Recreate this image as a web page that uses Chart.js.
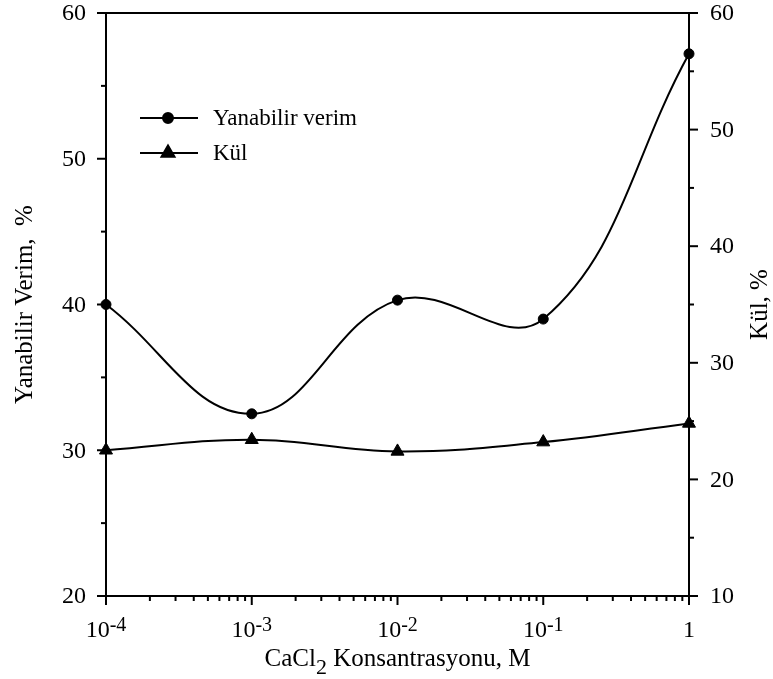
<!DOCTYPE html>
<html>
<head>
<meta charset="utf-8">
<script src="https://cdn.jsdelivr.net/npm/chart.js@4.4.1/dist/chart.umd.min.js"></script>
<style>
  html, body { margin: 0; padding: 0; background: #fff; }
  #wrap { width: 773px; height: 679px; }
</style>
</head>
<body>
<div id="wrap"><canvas id="chart" width="773" height="679"></canvas></div>
<script>
const concentrations = [1e-4, 1e-3, 1e-2, 1e-1, 1];
const yanabilirVerim = [40.0, 32.5, 40.3, 39.0, 57.2];
const kul = [22.5, 23.4, 22.4, 23.2, 24.8];

const leftTicks = [20, 30, 40, 50, 60];
const leftMinor = [25, 35, 45, 55];
const rightTicks = [10, 20, 30, 40, 50, 60];
const rightMinor = [15, 25, 35, 45, 55];
const xExponents = [-4, -3, -2, -1, 0];

const SERIF = '"Liberation Serif", "Times New Roman", serif';

// frame + hand-drawn ticks (major and minor), like the original plot
const axesPlugin = {
  id: 'axesPlugin',
  beforeDatasetsDraw(chart) {
    const { ctx, chartArea: a, scales } = chart;
    ctx.save();
    ctx.strokeStyle = '#000';
    ctx.lineWidth = 2;
    ctx.strokeRect(a.left, a.top, a.right - a.left, a.bottom - a.top);

    const tick = (x1, y1, x2, y2) => {
      ctx.beginPath();
      ctx.moveTo(x1, y1);
      ctx.lineTo(x2, y2);
      ctx.stroke();
    };

    leftTicks.forEach(v => { const y = scales.y.getPixelForValue(v); tick(a.left - 9, y, a.left, y); });
    leftMinor.forEach(v => { const y = scales.y.getPixelForValue(v); tick(a.left - 5, y, a.left, y); });
    rightTicks.forEach(v => { const y = scales.y1.getPixelForValue(v); tick(a.right, y, a.right + 9, y); });
    rightMinor.forEach(v => { const y = scales.y1.getPixelForValue(v); tick(a.right, y, a.right + 5, y); });

    xExponents.forEach(e => {
      const x = scales.x.getPixelForValue(Math.pow(10, e));
      tick(x, a.bottom, x, a.bottom + 9);
      if (e < 0) {
        for (let m = 2; m <= 9; m++) {
          const xm = scales.x.getPixelForValue(m * Math.pow(10, e));
          tick(xm, a.bottom, xm, a.bottom + 5);
        }
      }
    });
    ctx.restore();
  },
  afterDraw(chart) {
    const { ctx, chartArea: a, scales } = chart;
    ctx.save();
    ctx.fillStyle = '#000';
    ctx.strokeStyle = '#000';

    // y tick labels
    ctx.font = '24px ' + SERIF;
    ctx.textBaseline = 'middle';
    ctx.textAlign = 'right';
    leftTicks.forEach(v => ctx.fillText(String(v), a.left - 20, scales.y.getPixelForValue(v) + 1));
    ctx.textAlign = 'left';
    rightTicks.forEach(v => ctx.fillText(String(v), a.right + 21, scales.y1.getPixelForValue(v) + 1));

    // x tick labels with superscript exponents
    ctx.textBaseline = 'alphabetic';
    ctx.textAlign = 'left';
    const base = 637;
    xExponents.forEach(e => {
      const x = scales.x.getPixelForValue(Math.pow(10, e));
      if (e === 0) {
        ctx.font = '24px ' + SERIF;
        const w = ctx.measureText('1').width;
        ctx.fillText('1', x - w / 2, base);
        return;
      }
      ctx.font = '24px ' + SERIF;
      const w1 = ctx.measureText('10').width;
      ctx.font = '20px ' + SERIF;
      const sup = String(e);
      const w2 = ctx.measureText(sup).width;
      const x0 = x - (w1 + w2) / 2;
      ctx.font = '24px ' + SERIF;
      ctx.fillText('10', x0, base);
      ctx.font = '20px ' + SERIF;
      ctx.fillText(sup, x0 + w1, base - 6);
    });

    // x title with subscript
    const tBase = 666;
    ctx.font = '25px ' + SERIF;
    const p1 = 'CaCl', p3 = ' Konsantrasyonu, M';
    const w1 = ctx.measureText(p1).width;
    const w3 = ctx.measureText(p3).width;
    ctx.font = '22px ' + SERIF;
    const w2 = ctx.measureText('2').width;
    let xs = (a.left + a.right) / 2 - (w1 + w2 + w3) / 2;
    ctx.font = '25px ' + SERIF;
    ctx.fillText(p1, xs, tBase);
    ctx.font = '22px ' + SERIF;
    ctx.fillText('2', xs + w1, tBase + 8);
    ctx.font = '25px ' + SERIF;
    ctx.fillText(p3, xs + w1 + w2, tBase);

    // y titles
    ctx.textAlign = 'center';
    ctx.textBaseline = 'middle';
    const midY = (a.top + a.bottom) / 2;
    ctx.save();
    ctx.translate(25, midY);
    ctx.rotate(-Math.PI / 2);
    ctx.fillText('Yanabilir Verim,  %', 0, 0);
    ctx.restore();
    ctx.save();
    ctx.translate(760, midY);
    ctx.rotate(-Math.PI / 2);
    ctx.fillText('Kül, %', 0, 0);
    ctx.restore();

    // legend
    const items = [
      { label: 'Yanabilir verim', style: 'circle', radius: 5, y: 118 },
      { label: 'Kül', style: 'triangle', radius: 7.5, y: 153 }
    ];
    ctx.font = '23px ' + SERIF;
    ctx.textAlign = 'left';
    ctx.lineWidth = 2;
    items.forEach(it => {
      ctx.beginPath();
      ctx.moveTo(140, it.y);
      ctx.lineTo(198, it.y);
      ctx.stroke();
      Chart.helpers.drawPoint(ctx, { pointStyle: it.style, radius: it.radius, borderWidth: 1, rotation: 0 }, 168, it.y);
      ctx.fillText(it.label, 213, it.y + 1);
    });
    ctx.restore();
  }
};

new Chart(document.getElementById('chart'), {
  type: 'line',
  data: {
    datasets: [
      {
        label: 'Yanabilir verim',
        data: concentrations.map((c, i) => ({ x: c, y: yanabilirVerim[i] })),
        yAxisID: 'y',
        borderColor: '#000',
        borderWidth: 2,
        backgroundColor: '#000',
        pointStyle: 'circle',
        pointRadius: 5,
        pointBorderWidth: 1,
        tension: 0.4,
        clip: false
      },
      {
        label: 'Kül',
        data: concentrations.map((c, i) => ({ x: c, y: kul[i] })),
        yAxisID: 'y1',
        borderColor: '#000',
        borderWidth: 2,
        backgroundColor: '#000',
        pointStyle: 'triangle',
        pointRadius: 7.5,
        pointBorderWidth: 1,
        tension: 0.4,
        clip: false
      }
    ]
  },
  options: {
    responsive: false,
    animation: false,
    layout: { padding: { top: 13, left: 0, right: 0, bottom: 0 } },
    plugins: {
      legend: { display: false },
      tooltip: { enabled: false }
    },
    scales: {
      x: {
        type: 'logarithmic',
        min: 1e-4,
        max: 1,
        ticks: { display: false },
        grid: { display: false },
        border: { display: false },
        afterFit: s => { s.height = 83; }
      },
      y: {
        position: 'left',
        min: 20,
        max: 60,
        ticks: { display: false },
        grid: { display: false },
        border: { display: false },
        afterFit: s => { s.width = 106; }
      },
      y1: {
        position: 'right',
        min: 10,
        max: 60,
        ticks: { display: false },
        grid: { display: false },
        border: { display: false },
        afterFit: s => { s.width = 84; }
      }
    }
  },
  plugins: [axesPlugin]
});
</script>
</body>
</html>
